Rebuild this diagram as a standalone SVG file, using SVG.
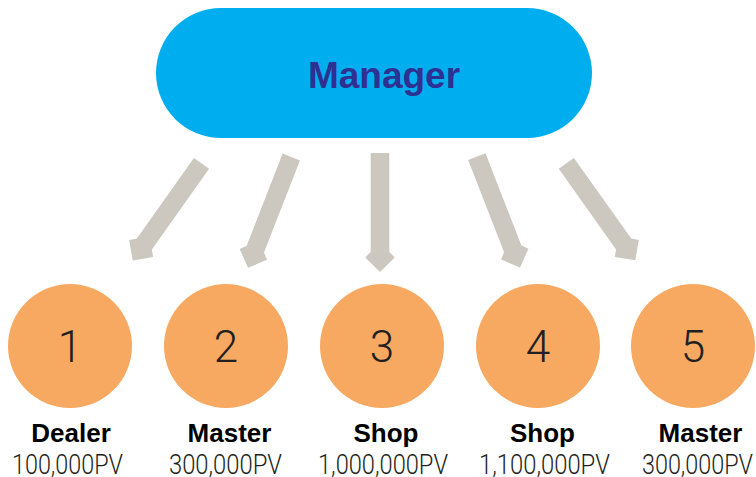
<svg xmlns="http://www.w3.org/2000/svg" width="756" height="477" viewBox="0 0 756 477">
  <defs>
    <style>
      .pill { fill: #00AEEF; }
      .title { font-family: "Liberation Sans", Arial, sans-serif; font-weight: bold; font-size: 37px; fill: #2E3192; text-anchor: middle; }
      .circ { fill: #F7A962; }
      .num { font-family: Roboto, "Liberation Sans", sans-serif; font-weight: 300; font-size: 44px; fill: #231F20; text-anchor: middle; }
      .lbl { font-family: "Liberation Sans", Arial, sans-serif; font-weight: bold; font-size: 26px; fill: #000; text-anchor: middle; }
      .pv { font-family: Roboto, "Liberation Sans", sans-serif; font-weight: 300; font-size: 27px; fill: #231F20; text-anchor: middle; }
      .arr { fill: #CCC8C0; }
    </style>
    <polygon id="arrow" class="arr" points="-9.3,0 9.3,0 9.3,99 14.7,104.5 0,119 -14.7,104.5 -9.3,99"/>
  </defs>
  <rect width="756" height="477" fill="#FFFFFF"/>

  <g id="connectors">
    <use href="#arrow" transform="translate(201.5,163.3) rotate(35.3)"/>
    <use href="#arrow" transform="translate(291.3,157) rotate(21.3)"/>
    <use href="#arrow" transform="translate(380,153)"/>
    <use href="#arrow" transform="translate(476.8,156.7) rotate(-21.3)"/>
    <use href="#arrow" transform="translate(566.3,163.3) rotate(-35.4)"/>
  </g>

  <g id="manager">
    <rect class="pill" x="156" y="8" width="436" height="130" rx="65" ry="65"/>
    <text class="title" x="384" y="88">Manager</text>
  </g>

  <g id="node1">
    <circle class="circ" cx="70" cy="346" r="62"/>
    <text class="num" x="70" y="362">1</text>
    <text class="lbl" x="71" y="442">Dealer</text>
    <text class="pv" x="67.5" y="474" textLength="111" lengthAdjust="spacingAndGlyphs">100,000PV</text>
  </g>
  <g id="node2">
    <circle class="circ" cx="226" cy="346" r="62"/>
    <text class="num" x="226" y="362">2</text>
    <text class="lbl" x="229.5" y="442">Master</text>
    <text class="pv" x="225.5" y="474" textLength="113" lengthAdjust="spacingAndGlyphs">300,000PV</text>
  </g>
  <g id="node3">
    <circle class="circ" cx="382" cy="346" r="62"/>
    <text class="num" x="382" y="362">3</text>
    <text class="lbl" x="386" y="442">Shop</text>
    <text class="pv" x="383" y="474" textLength="130" lengthAdjust="spacingAndGlyphs">1,000,000PV</text>
  </g>
  <g id="node4">
    <circle class="circ" cx="538" cy="346" r="62"/>
    <text class="num" x="538" y="362">4</text>
    <text class="lbl" x="542.5" y="442">Shop</text>
    <text class="pv" x="544.5" y="474" textLength="131" lengthAdjust="spacingAndGlyphs">1,100,000PV</text>
  </g>
  <g id="node5">
    <circle class="circ" cx="693" cy="346" r="62"/>
    <text class="num" x="693" y="362">5</text>
    <text class="lbl" x="700.5" y="442">Master</text>
    <text class="pv" x="697.5" y="474" textLength="111" lengthAdjust="spacingAndGlyphs">300,000PV</text>
  </g>
</svg>
